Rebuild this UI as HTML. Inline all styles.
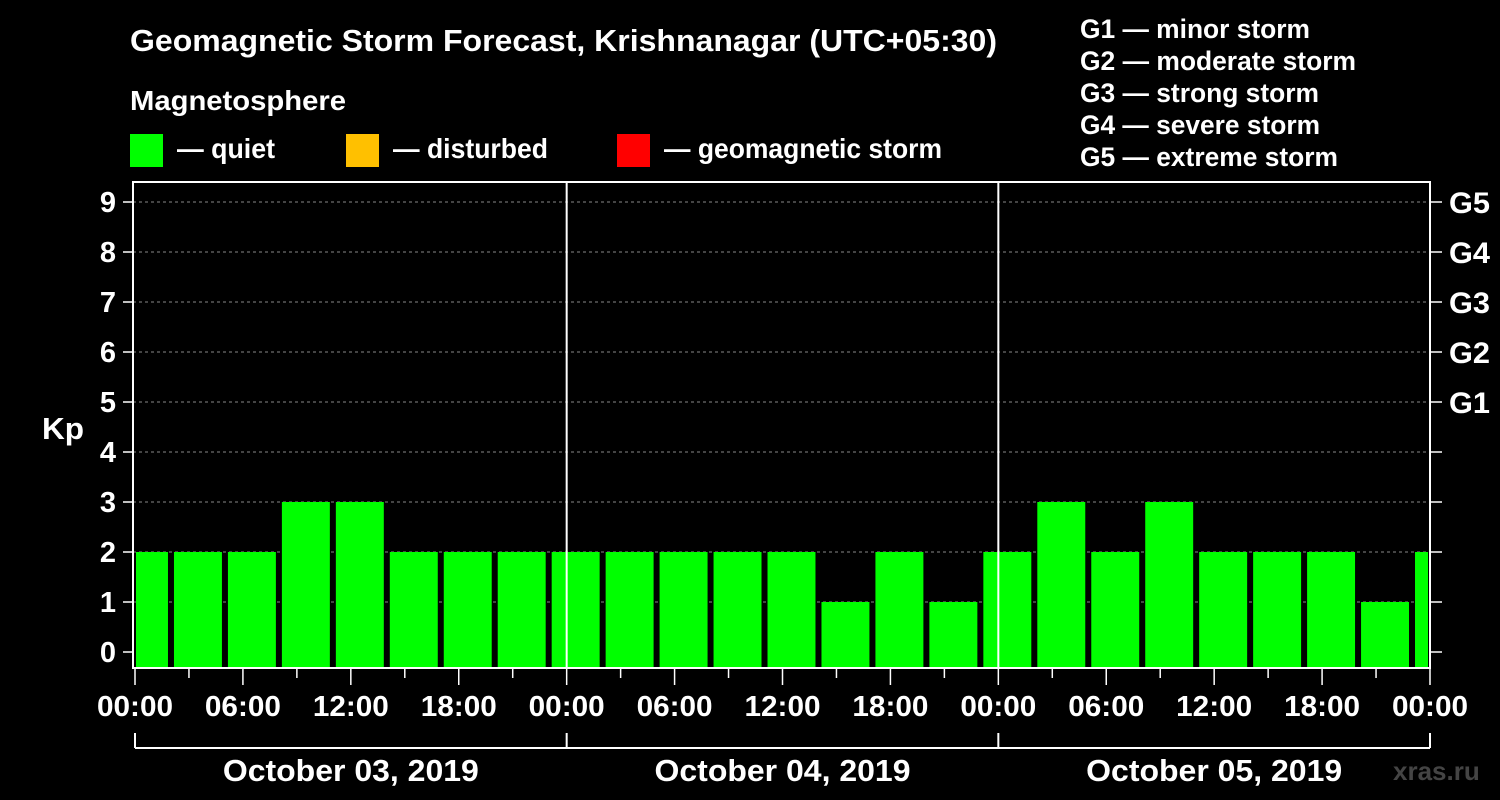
<!DOCTYPE html>
<html><head><meta charset="utf-8"><style>
html,body{margin:0;padding:0;background:#000;}
svg{display:block;font-family:"Liberation Sans",sans-serif;font-weight:bold;}
</style></head><body>
<svg width="1500" height="800" viewBox="0 0 1500 800">
<rect width="1500" height="800" fill="#000"/>
<text x="130" y="51" fill="#fff" font-size="31" textLength="867" lengthAdjust="spacingAndGlyphs">Geomagnetic Storm Forecast, Krishnanagar (UTC+05:30)</text>
<text x="130" y="110" fill="#fff" font-size="28" textLength="216" lengthAdjust="spacingAndGlyphs">Magnetosphere</text>
<g><rect x="130" y="134" width="33" height="33" fill="#00ff00"/><text x="177" y="158" fill="#fff" font-size="28" textLength="98" lengthAdjust="spacingAndGlyphs">— quiet</text></g>
<g><rect x="346" y="134" width="33" height="33" fill="#ffc000"/><text x="393" y="158" fill="#fff" font-size="28" textLength="155" lengthAdjust="spacingAndGlyphs">— disturbed</text></g>
<g><rect x="617" y="134" width="33" height="33" fill="#ff0000"/><text x="664" y="158" fill="#fff" font-size="28" textLength="278" lengthAdjust="spacingAndGlyphs">— geomagnetic storm</text></g>
<g fill="#fff" font-size="27">
<text x="1080" y="38" textLength="230" lengthAdjust="spacingAndGlyphs">G1 — minor storm</text>
<text x="1080" y="70" textLength="276" lengthAdjust="spacingAndGlyphs">G2 — moderate storm</text>
<text x="1080" y="102" textLength="239" lengthAdjust="spacingAndGlyphs">G3 — strong storm</text>
<text x="1080" y="134" textLength="240" lengthAdjust="spacingAndGlyphs">G4 — severe storm</text>
<text x="1080" y="166" textLength="258" lengthAdjust="spacingAndGlyphs">G5 — extreme storm</text>
</g>
<text x="42" y="439" fill="#fff" font-size="31" textLength="42" lengthAdjust="spacingAndGlyphs">Kp</text>
<text x="1393" y="780" fill="#444" font-size="26">xras.ru</text>
<g id="grid"></g><g id="bars"></g><g id="axes"></g>
</svg>
<script>
const kpValues=[2,2,2,3,3,2,2,2,2,2,2,2,2,1,2,1,2,3,2,3,2,2,2,1,2];
const yTicks=[0,1,2,3,4,5,6,7,8,9];
const gLabels=["","","","","","G1","G2","G3","G4","G5"];
const xTickLabels=["00:00","06:00","12:00","18:00","00:00","06:00","12:00","18:00","00:00","06:00","12:00","18:00","00:00"];
const dayLabels=["October 03, 2019","October 04, 2019","October 05, 2019"];
const NS="http://www.w3.org/2000/svg";
const L=133,R=1430,T=182,B=668;
const xs=h=>135+h*(R-135)/72;
const ys=v=>652-v*50;
function mk(tag,attrs,parent,txt){const e=document.createElementNS(NS,tag);for(const k in attrs)e.setAttribute(k,attrs[k]);if(txt!==undefined)e.textContent=txt;parent.appendChild(e);return e;}
const grid=document.getElementById('grid'),bars=document.getElementById('bars'),axes=document.getElementById('axes');
yTicks.forEach((v,i)=>{
 if(v>0){const g=mk('line',{x1:L,x2:R,y1:ys(v),y2:ys(v),stroke:'#888','stroke-dasharray':'3,3','stroke-width':1},grid);
 
 }
 mk('line',{x1:123,x2:L,y1:ys(v),y2:ys(v),stroke:'#fff','stroke-width':1.5},axes);
 mk('line',{x1:R,x2:1442,y1:ys(v),y2:ys(v),stroke:'#fff','stroke-width':1.5},axes);
 const t=mk('text',{x:116,y:ys(v)+10,fill:'#fff','font-size':29,'text-anchor':'end'},axes,String(v));
 
 
 if(gLabels[i]){const g=mk('text',{x:1449,y:ys(v)+11,fill:'#fff','font-size':30,textLength:41,lengthAdjust:'spacingAndGlyphs'},axes,gLabels[i]);
 
 }
});
kpValues.forEach((v,k)=>{
 const c=0.5+3*k;
 let x1=Math.max(xs(c-1.5)+3,136),x2=Math.min(xs(c+1.5)-3,1428);
 const col=v>=5?'#ff0000':(v>=4?'#ffc000':'#00ff00');
 const r=mk('rect',{x:x1,y:ys(v),width:x2-x1,height:B-ys(v),fill:col},bars);
 
 
});
[1,2].forEach(d=>{mk('line',{x1:xs(24*d),x2:xs(24*d),y1:T,y2:B,stroke:'#fff','stroke-width':2},axes);});
mk('rect',{x:L,y:T,width:R-L,height:B-T,fill:'none',stroke:'#fff','stroke-width':2},axes);
for(let h=0;h<=72;h+=3){mk('line',{x1:xs(h),x2:xs(h),y1:B,y2:B+(h%6===0?17:10),stroke:'#fff','stroke-width':1.5},axes);}
xTickLabels.forEach((s,i)=>{const t=mk('text',{x:xs(i*6),y:716,fill:'#fff','font-size':29,'text-anchor':'middle',textLength:76,lengthAdjust:'spacingAndGlyphs'},axes,s);
 
 });
mk('line',{x1:xs(0),x2:xs(72),y1:748,y2:748,stroke:'#fff','stroke-width':2},axes);
for(let d=0;d<=3;d++)mk('line',{x1:xs(24*d),x2:xs(24*d),y1:733,y2:748,stroke:'#fff','stroke-width':2},axes);
dayLabels.forEach((s,i)=>{const t=mk('text',{x:xs(24*i+12),y:781,fill:'#fff','font-size':31,'text-anchor':'middle',textLength:256,lengthAdjust:'spacingAndGlyphs'},axes,s);
 
 });
</script>
</body></html>
